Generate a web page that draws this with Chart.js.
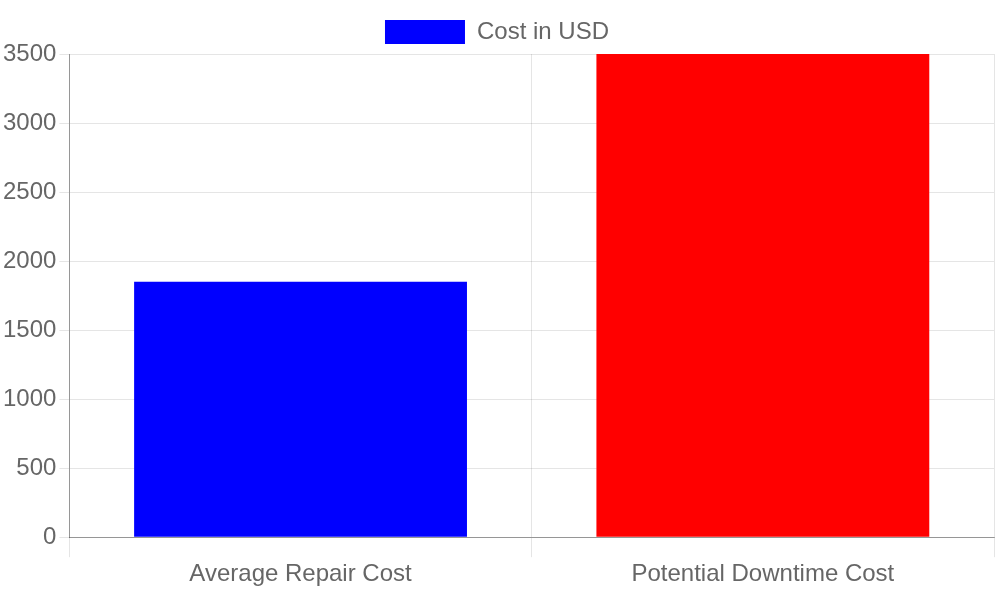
<!DOCTYPE html>
<html><head><meta charset="utf-8">
<script src="https://cdn.jsdelivr.net/npm/chart.js@4"></script>
<style>html,body{margin:0;padding:0;background:#fff}#w{width:1000px;height:600px}</style>
</head><body><div id="w"><canvas id="c"></canvas></div>
<script>
const categories = ["Average Repair Cost", "Potential Downtime Cost"];
const costValues = [1850, 3500];
const barColors = ["#0000ff", "#ff0000"];
const seriesLabel = "Cost in USD";

Chart.defaults.font.family = "'Liberation Sans', Arial, sans-serif";
Chart.defaults.font.size = 24;
Chart.defaults.color = "#666";

new Chart(document.getElementById('c'), {
  type: 'bar',
  data: {
    labels: categories,
    datasets: [{ label: seriesLabel, data: costValues, backgroundColor: barColors, borderWidth: 0 }]
  },
  options: {
    responsive: true, maintainAspectRatio: false, animation: false,
    layout: { padding: { right: 6, top: 4, bottom: 8 } },
    plugins: {
      legend: { labels: { boxWidth: 80, boxHeight: 24, padding: 16, font: { size: 24 } } },
      tooltip: { enabled: false }
    },
    scales: {
      x: { grid: { offset: true, tickLength: 20, color: 'rgba(0,0,0,0.1)' }, border: { color: 'rgba(0,0,0,0.35)' } },
      y: { min: 0, max: 3500,
           ticks: { stepSize: 500, callback: v => String(v) },
           grid: { color: 'rgba(0,0,0,0.1)', tickLength: 10 },
           border: { color: 'rgba(0,0,0,0.35)' } }
    }
  }
});
</script></body></html>
